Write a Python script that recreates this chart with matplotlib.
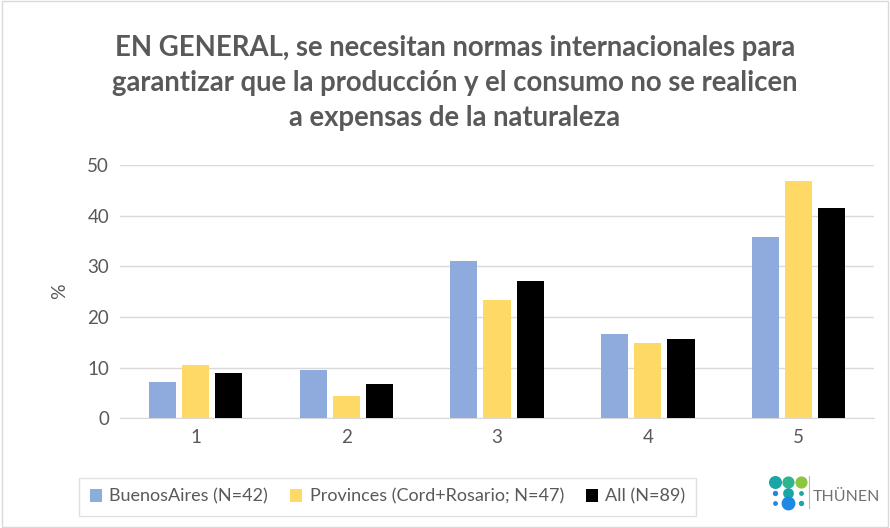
import matplotlib.pyplot as plt
import numpy as np
from matplotlib.patches import Rectangle

categories = ["1", "2", "3", "4", "5"]
buenos_aires = [7.1, 9.5, 31.0, 16.7, 35.7]
provinces = [10.6, 4.3, 23.4, 14.9, 46.8]
all_resp = [9.0, 6.7, 27.0, 15.7, 41.6]
series_labels = ["BuenosAires (N=42)", "Provinces (Cord+Rosario; N=47)", "All (N=89)"]
title = ("EN GENERAL, se necesitan normas internacionales para\n"
         "garantizar que la producción y el consumo no se realicen\n"
         "a expensas de la naturaleza")

plt.rcParams['font.family'] = ['Lato', 'DejaVu Sans']
gray = "#595959"

fig = plt.figure(figsize=(8.9, 5.28), dpi=100)
ax = fig.add_axes([0.135, 0.208, 0.847, 0.4795])

x = np.arange(len(categories))
w = 0.18
step = 0.22
colors = ["#8FAADC", "#FFD966", "#000000"]
for i, (vals, lab) in enumerate(zip([buenos_aires, provinces, all_resp], series_labels)):
    ax.bar(x + (i - 1) * step, vals, w, color=colors[i], label=lab, zorder=3)

ax.set_xlim(-0.5, 4.5)
ax.set_ylim(0, 50)
ax.set_yticks(range(0, 51, 10))
ax.set_xticks(x)
ax.set_xticklabels(categories)
ax.grid(axis="y", color="#D9D9D9", linewidth=1, zorder=0)
for s in ["top", "right", "left"]:
    ax.spines[s].set_visible(False)
ax.spines["bottom"].set_color("#D9D9D9")
ax.tick_params(axis="both", length=0, labelsize=13.5, colors=gray, pad=8)
ax.set_ylabel("%", fontsize=14, color=gray, labelpad=14)

fig.text(0.511, 0.843, title, ha="center", va="center", fontsize=19.8,
         fontweight="bold", color=gray, linespacing=1.42)

leg = ax.legend(loc="upper left", bbox_to_anchor=(-0.067, -0.2), ncol=3,
                frameon=True, fancybox=False, edgecolor="#D9D9D9",
                fontsize=13, handlelength=0.7, handleheight=0.7,
                handletextpad=0.4, columnspacing=1.2, borderpad=0.6)
for t in leg.get_texts():
    t.set_color(gray)

# logo
dots = [
    (775, 482, 70, "#1AA6A6"), (788, 482, 60, "#2DB38F"), (801, 482, 60, "#8CC63F"),
    (775, 493, 8, "#1E88E5"), (788, 493, 45, "#1AA6A6"), (801, 493, 6, "#1AA6A6"),
    (775, 503, 6, "#1E88E5"), (788, 503, 80, "#1E88E5"), (801, 503, 8, "#1AA6A6"),
]
for px, py, sz, c in dots:
    fig.add_artist(plt.Line2D([px / 890], [1 - py / 528], marker="o", markersize=np.sqrt(sz),
                              color=c, linestyle="none", transform=fig.transFigure))
fig.add_artist(plt.Line2D([809 / 890, 809 / 890], [1 - 476 / 528, 1 - 508 / 528],
                          color="#BBBBBB", linewidth=0.8, transform=fig.transFigure))
fig.text(813 / 890, 1 - 497 / 528, "THÜNEN", fontsize=11.5, color="#707070",
         ha="left", va="center")

fig.patches.append(Rectangle((0.002, 0.002), 0.996, 0.996, transform=fig.transFigure,
                             fill=False, edgecolor="#D9D9D9", linewidth=1))

fig.savefig("out.png", dpi=100)
